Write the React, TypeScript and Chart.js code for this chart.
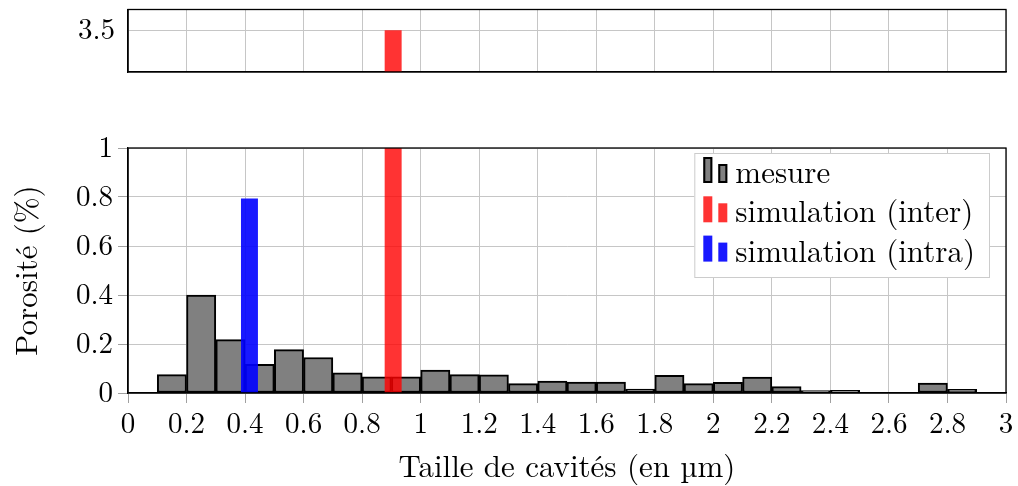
import React, { useEffect, useRef } from "react";
import { Chart, registerables } from "chart.js";

Chart.register(...registerables);

// ---------- data ----------
const binCenters = [
  0.15, 0.25, 0.35, 0.45, 0.55, 0.65, 0.75, 0.85, 0.95, 1.05, 1.15, 1.25, 1.35, 1.45,
  1.55, 1.65, 1.75, 1.85, 1.95, 2.05, 2.15, 2.25, 2.35, 2.45, 2.55, 2.65, 2.75, 2.85,
];
const mesureValues = [
  0.075, 0.4, 0.218, 0.117, 0.177, 0.145, 0.082, 0.066, 0.066, 0.094, 0.075, 0.074, 0.038, 0.049,
  0.045, 0.045, 0.016, 0.072, 0.038, 0.044, 0.065, 0.026, 0.01, 0.011, 0, 0, 0.041, 0.015,
];
const interX = [0.906];
const interValues = [3.5];
const intraX = [0.415];
const intraValues = [0.794];

const seriesLabels = ["mesure", "simulation (inter)", "simulation (intra)"];

const xTicks = [0, 0.2, 0.4, 0.6, 0.8, 1, 1.2, 1.4, 1.6, 1.8, 2, 2.2, 2.4, 2.6, 2.8, 3];
const xTickLabels = ["0", "0.2", "0.4", "0.6", "0.8", "1", "1.2", "1.4", "1.6", "1.8", "2", "2.2", "2.4", "2.6", "2.8", "3"];
const yTicks = [0, 0.2, 0.4, 0.6, 0.8, 1];
const yTickLabels = ["0", "0.2", "0.4", "0.6", "0.8", "1"];
const topYTicks = [3.5];
const topYTickLabels = ["3.5"];

const xTitle = "Taille de cavités (en µm)";
const yTitle = "Porosité (%)";

// ---------- style ----------
const FONT = "'Latin Modern Roman', 'Liberation Serif', serif";
const GRID = "#c6c6c6";
const GRAY = "rgb(128,128,128)";
const RED = "rgba(255,0,0,0.8)";
const BLUE = "rgba(0,0,255,0.9)";

Chart.defaults.color = "#000";
Chart.defaults.font.family = FONT;

const framePlugin = {
  id: "frame",
  afterDatasetsDraw(chart: any) {
    const { ctx, chartArea: a } = chart;
    ctx.save();
    ctx.strokeStyle = "#000";
    ctx.lineWidth = 1.3;
    ctx.strokeRect(a.left, a.top, a.right - a.left, a.bottom - a.top);
    ctx.restore();
  },
};

const legendPlugin = {
  id: "boxLegend",
  afterDraw(chart: any) {
    const { ctx, chartArea: a } = chart;
    const ds = chart.data.datasets;
    ctx.save();
    ctx.font = `31px ${FONT}`;
    const textW = Math.max(...ds.map((d: any) => ctx.measureText(d.label).width));
    const w = 41 + textW + 14;
    const h = 124;
    const right = a.right - 17;
    const left = right - w;
    const top = a.top + 5;
    ctx.fillStyle = "#fff";
    ctx.fillRect(left, top, w, h);
    ctx.strokeStyle = "#cccccc";
    ctx.lineWidth = 1;
    ctx.strokeRect(left + 0.5, top + 0.5, w, h);
    ds.forEach((d: any, i: number) => {
      const base = top + 30 + i * 39.3;
      const bordered = (d.borderWidth || 0) > 0;
      const bars = [
        { x: left + 9, hgt: 26 },
        { x: left + 24, hgt: 19 },
      ];
      bars.forEach((b) => {
        ctx.fillStyle = d.backgroundColor;
        ctx.fillRect(b.x, base - b.hgt, 9, b.hgt);
        if (bordered) {
          ctx.strokeStyle = d.borderColor;
          ctx.lineWidth = 2;
          ctx.strokeRect(b.x + 1, base - b.hgt + 1, 7, b.hgt - 2);
        }
      });
      ctx.fillStyle = "#000";
      ctx.textBaseline = "alphabetic";
      ctx.textAlign = "left";
      ctx.fillText(d.label, left + 41, base);
    });
    ctx.restore();
  },
};

function setTicks(values: number[]) {
  return (s: any) => {
    s.ticks = values.map((v) => ({ value: v }));
  };
}

function makeConfig(top: boolean): any {
  const datasets = [
    {
      label: seriesLabels[0],
      data: binCenters.map((x, i) => ({ x, y: mesureValues[i] })),
      backgroundColor: GRAY,
      borderColor: "#000",
      borderWidth: 2,
      borderSkipped: false,
      barPercentage: 1,
      categoryPercentage: 1,
      grouped: false,
      order: 2,
      xAxisID: "x",
    },
    {
      label: seriesLabels[1],
      data: interX.map((x, i) => ({ x, y: interValues[i] })),
      backgroundColor: RED,
      borderWidth: 0,
      barPercentage: 0.29,
      categoryPercentage: 1,
      grouped: false,
      order: 1,
      xAxisID: "x2",
    },
    {
      label: seriesLabels[2],
      data: intraX.map((x, i) => ({ x, y: intraValues[i] })),
      backgroundColor: BLUE,
      borderWidth: 0,
      barPercentage: 0.29,
      categoryPercentage: 1,
      grouped: false,
      order: 1,
      xAxisID: "x2",
    },
  ];

  return {
    type: "bar",
    data: { datasets },
    plugins: top ? [framePlugin] : [framePlugin, legendPlugin],
    options: {
      animation: false,
      responsive: false,
      events: [],
      layout: {
        padding: top
          ? { top: 9.5, bottom: 13, left: 0, right: 12 }
          : { top: 63, bottom: 0, left: 0, right: 12 },
      },
      plugins: { legend: { display: false }, tooltip: { enabled: false } },
      scales: {
        x: {
          type: "linear",
          position: "bottom",
          min: 0,
          max: 3,
          offset: false,
          afterBuildTicks: setTicks(xTicks),
          afterFit: (s: any) => {
            s.height = top ? 0 : 93;
            s.paddingLeft = 0;
            s.paddingRight = 0;
          },
          grid: {
            color: GRID,
            offset: false,
            lineWidth: 1,
            drawTicks: !top,
            tickLength: 10,
            tickColor: "#a0a0a0",
          },
          border: { color: "#000", width: 1.3 },
          ticks: {
            display: !top,
            autoSkip: false,
            maxRotation: 0,
            padding: 4,
            font: { family: FONT, size: 29 },
            callback: (_v: any, i: number) => xTickLabels[i],
          },
          title: {
            display: !top,
            text: xTitle,
            font: { family: FONT, size: 31 },
            padding: { top: 0, bottom: 0 },
          },
        },
        x2: {
          type: "linear",
          position: "bottom",
          display: false,
          min: 0,
          max: 3,
          offset: false,
          afterBuildTicks: setTicks(xTicks),
          grid: { offset: false },
        },
        y: {
          type: "linear",
          position: "left",
          min: top ? 3 : 0,
          max: top ? 3.75 : 1,
          afterBuildTicks: setTicks(top ? topYTicks : yTicks),
          afterFit: (s: any) => {
            s.width = 128;
            s.paddingTop = 0;
            s.paddingBottom = 0;
          },
          grid: {
            color: GRID,
            lineWidth: 1,
            drawTicks: !top,
            tickLength: 10,
            tickColor: "#a0a0a0",
          },
          border: { color: "#000", width: 1.3 },
          ticks: {
            padding: top ? 13 : 5,
            autoSkip: false,
            font: { family: FONT, size: 29 },
            callback: (_v: any, i: number) => (top ? topYTickLabels[i] : yTickLabels[i]),
          },
          title: {
            display: !top,
            text: yTitle,
            font: { family: FONT, size: 31 },
            padding: { top: 9, bottom: 0 },
          },
        },
      },
    },
  };
}

export default function App() {
  const topRef = useRef<HTMLCanvasElement | null>(null);
  const botRef = useRef<HTMLCanvasElement | null>(null);

  useEffect(() => {
    const c1 = new Chart(topRef.current as HTMLCanvasElement, makeConfig(true));
    const c2 = new Chart(botRef.current as HTMLCanvasElement, makeConfig(false));
    return () => {
      c1.destroy();
      c2.destroy();
    };
  }, []);

  return (
    <div style={{ position: "absolute", left: 0, top: 0, width: 1018, height: 486, background: "#fff" }}>
      <canvas
        ref={topRef}
        width={1018}
        height={85}
        style={{ position: "absolute", left: 0, top: 0, width: 1018, height: 85, display: "block" }}
      />
      <canvas
        ref={botRef}
        width={1018}
        height={401}
        style={{ position: "absolute", left: 0, top: 85, width: 1018, height: 401, display: "block" }}
      />
    </div>
  );
}
